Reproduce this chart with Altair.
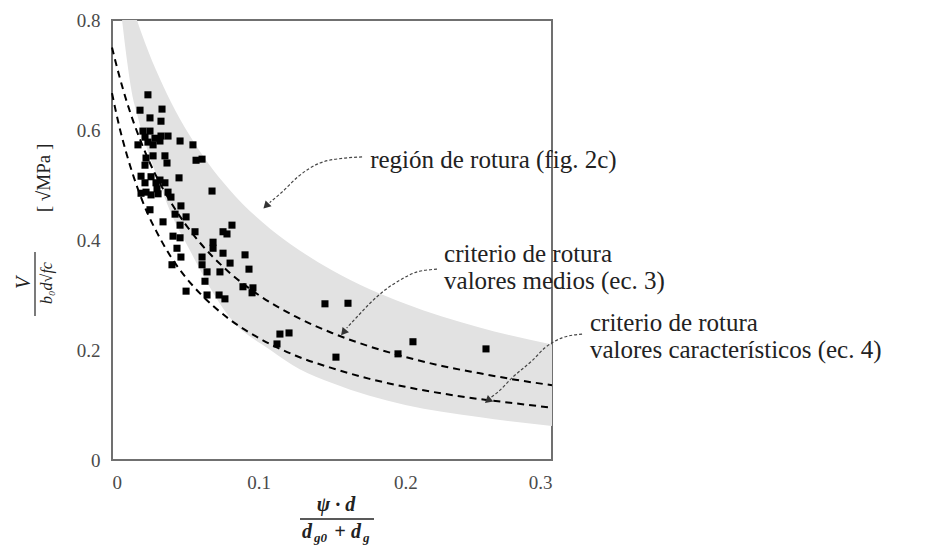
import altair as alt
import pandas as pd

# ---- data ----
pts_x = [0.0245, 0.0191, 0.0341, 0.0259, 0.0334, 0.0211, 0.0259, 0.0225, 0.0293, 0.0334,
         0.0382, 0.0177, 0.0280, 0.0327, 0.0464, 0.0552, 0.0232, 0.0280, 0.0361, 0.0375,
         0.0225, 0.0573, 0.0614, 0.0198, 0.0266, 0.0300, 0.0327, 0.0361, 0.0457, 0.0198,
         0.0232, 0.0266, 0.0314, 0.0382, 0.0402, 0.0682, 0.0259, 0.0470, 0.0430, 0.0505,
         0.0348, 0.0464, 0.0818, 0.0566, 0.0757, 0.0784, 0.0416, 0.0464, 0.0689, 0.0443,
         0.0689, 0.0470, 0.0614, 0.0757, 0.0907, 0.0409, 0.0614, 0.0805, 0.0934, 0.0648,
         0.0736, 0.0634, 0.0893, 0.0961, 0.0955, 0.0505, 0.0648, 0.0730, 0.0770, 0.1452,
         0.1609, 0.1145, 0.1207, 0.1125, 0.1527, 0.1950, 0.2052, 0.2550, 0.0245, 0.0307,
         0.0225]
pts_y = [0.664, 0.636, 0.638, 0.622, 0.616, 0.598, 0.598, 0.587, 0.585, 0.589,
         0.589, 0.573, 0.573, 0.580, 0.580, 0.573, 0.549, 0.553, 0.553, 0.540,
         0.536, 0.545, 0.547, 0.516, 0.515, 0.504, 0.509, 0.504, 0.513, 0.485,
         0.487, 0.482, 0.484, 0.487, 0.478, 0.489, 0.455, 0.462, 0.447, 0.442,
         0.433, 0.427, 0.427, 0.415, 0.415, 0.411, 0.407, 0.404, 0.396, 0.385,
         0.385, 0.369, 0.369, 0.376, 0.373, 0.355, 0.355, 0.358, 0.347, 0.342,
         0.342, 0.325, 0.315, 0.313, 0.304, 0.307, 0.300, 0.300, 0.293, 0.284,
         0.285, 0.229, 0.231, 0.211, 0.187, 0.193, 0.215, 0.202, 0.578, 0.493,
         0.504]

curve_x = [0.0, 0.005, 0.01, 0.015, 0.02, 0.025, 0.03, 0.04, 0.05, 0.06, 0.08, 0.1,
           0.125, 0.15, 0.175, 0.2, 0.225, 0.25, 0.275, 0.3]
medios_y = [0.750, 0.698, 0.652, 0.612, 0.577, 0.545, 0.517, 0.469, 0.429, 0.395, 0.341,
            0.300, 0.261, 0.231, 0.207, 0.1875, 0.171, 0.158, 0.146, 0.136]
caract_y = [0.667, 0.606, 0.556, 0.513, 0.476, 0.444, 0.417, 0.370, 0.333, 0.303, 0.256,
            0.222, 0.190, 0.167, 0.148, 0.133, 0.121, 0.111, 0.103, 0.095]

band_x = [0.006, 0.0102, 0.0136, 0.017, 0.02, 0.03, 0.04, 0.053, 0.065, 0.08, 0.108,
          0.128, 0.15, 0.2, 0.25, 0.3]
band_lo = [0.82, 0.727, 0.667, 0.63, 0.60, 0.52, 0.45, 0.382, 0.322, 0.26, 0.200,
           0.165, 0.14, 0.10, 0.078, 0.062]
band_hi = [0.899, 0.858, 0.828, 0.800, 0.777, 0.709, 0.652, 0.590, 0.542, 0.492, 0.420,
           0.381, 0.345, 0.284, 0.2415, 0.210]

x_ticks = [0, 0.1, 0.2, 0.3]
y_ticks = [0, 0.2, 0.4, 0.6, 0.8]

notes = ["región de rotura (fig. 2c)", "criterio de rotura", "valores medios (ec. 3)",
         "criterio de rotura", "valores característicos (ec. 4)"]
notes_x = [0.176, 0.2264, 0.2264, 0.3259, 0.3259]
notes_y = [0.545, 0.375, 0.3255, 0.2482, 0.2000]

arrow_id = [1] * 6 + [2] * 7 + [3] * 7
arrow_ord = list(range(6)) + list(range(7)) + list(range(7))
arrow_x = [0.1705, 0.1589, 0.1418, 0.1268, 0.1159, 0.1075,
           0.2216, 0.2080, 0.1964, 0.1861, 0.1759, 0.1670, 0.1600,
           0.3205, 0.3068, 0.2952, 0.2870, 0.2734, 0.2625, 0.2580]
arrow_y = [0.551, 0.549, 0.540, 0.515, 0.487, 0.468,
           0.347, 0.342, 0.327, 0.309, 0.285, 0.260, 0.240,
           0.229, 0.222, 0.204, 0.182, 0.151, 0.122, 0.113]
head_x = [0.1050, 0.1578, 0.2562]
head_y = [0.462, 0.232, 0.108]
head_angle = [45, 40, 50]

FONT = "'Liberation Serif', 'Times New Roman', serif"
xs = alt.Scale(domain=[0, 0.3], nice=False, zero=False)
ys = alt.Scale(domain=[0, 0.8], nice=False, zero=False)
lab = "datum.value == 0 ? '0' : format(datum.value, '.1f')"
x_axis = alt.Axis(values=x_ticks, labelExpr=lab, labelFont=FONT, labelFontSize=19,
                  labelColor="#4a4a4a", labelPadding=13, ticks=False, domain=False,
                  grid=False, title=None)
y_axis = alt.Axis(values=y_ticks, labelExpr=lab, labelFont=FONT, labelFontSize=19,
                  labelColor="#4a4a4a", labelPadding=12, ticks=False, domain=False,
                  grid=False, title=None)

band_df = pd.DataFrame({"x": band_x, "lo": band_lo, "hi": band_hi})
pts_df = pd.DataFrame({"x": pts_x, "y": pts_y})
curves_df = pd.DataFrame({"x": curve_x * 2, "y": medios_y + caract_y,
                          "c": ["medios"] * len(curve_x) + ["caract"] * len(curve_x)})
notes_df = pd.DataFrame({"t": notes, "x": notes_x, "y": notes_y})
arrows_df = pd.DataFrame({"id": arrow_id, "o": arrow_ord, "x": arrow_x, "y": arrow_y})
heads_df = pd.DataFrame({"x": head_x, "y": head_y, "a": head_angle})

band = alt.Chart(band_df).mark_area(color="#e2e2e2", clip=True, interpolate="monotone").encode(
    x=alt.X("x:Q", scale=xs, axis=x_axis),
    y=alt.Y("lo:Q", scale=ys, axis=y_axis),
    y2="hi:Q",
)

curves = alt.Chart(curves_df).mark_line(color="black", strokeWidth=2, strokeDash=[7, 5],
                                        interpolate="monotone").encode(
    x=alt.X("x:Q", scale=xs), y=alt.Y("y:Q", scale=ys), detail="c:N")

pts = alt.Chart(pts_df).mark_square(size=50, color="black", opacity=1).encode(
    x=alt.X("x:Q", scale=xs), y=alt.Y("y:Q", scale=ys))

arrows = alt.Chart(arrows_df).mark_line(color="#444444", strokeWidth=1.2, strokeDash=[3, 2],
                                        interpolate="monotone").encode(
    x=alt.X("x:Q", scale=xs), y=alt.Y("y:Q", scale=ys), detail="id:N", order="o:Q")

heads = alt.Chart(heads_df).mark_point(shape="triangle-down", filled=True, size=70,
                                       color="#333333", opacity=1).encode(
    x=alt.X("x:Q", scale=xs), y=alt.Y("y:Q", scale=ys), angle=alt.Angle("a:Q", scale=None))

texts = alt.Chart(notes_df).mark_text(align="left", baseline="middle", font=FONT,
                                      fontSize=25, color="#222222").encode(
    x=alt.X("x:Q", scale=xs), y=alt.Y("y:Q", scale=ys), text="t:N")

# axis titles (fractions) drawn as text pieces
def label(txt, px, py, size=20, angle=0, style="italic", weight="normal", align="center",
          baseline="alphabetic"):
    return alt.Chart(pd.DataFrame({"t": [txt]})).mark_text(
        font=FONT, fontSize=size, fontStyle=style, fontWeight=weight, align=align,
        baseline=baseline, angle=angle, color="#222222").encode(
        x=alt.value(px), y=alt.value(py), text="t:N")

xt = [
    label("ψ · d", 224, 491, weight="bold"),
    label("d", 190, 518, weight="bold", align="left"),
    label("g0", 202, 522, size=13, weight="bold", align="left"),
    label("+", 228, 518, weight="bold"),
    label("d", 239, 518, weight="bold", align="left"),
    label("g", 251, 522, size=13, weight="bold", align="left"),
]
xbar = alt.Chart(pd.DataFrame({"k": [0]})).mark_rule(color="#222222", strokeWidth=1.5).encode(
    x=alt.value(188), x2=alt.value(262), y=alt.value(499))

yt = [
    label("V", -88, 263, size=20, angle=270, baseline="middle"),
    label("b₀d√fc", -65, 263, size=16, angle=270, baseline="middle"),
    label("[ √MPa ]", -68, 158, size=19, angle=270, style="normal", baseline="middle"),
]
ybar = alt.Chart(pd.DataFrame({"k": [0]})).mark_rule(color="#222222", strokeWidth=1.2).encode(
    x=alt.value(-77), y=alt.value(232), y2=alt.value(296))

chart = alt.layer(band, curves, pts, arrows, heads, texts, xbar, ybar, *xt, *yt).properties(
    width=440, height=440,
    autosize=alt.AutoSizeParams(type="none"),
    padding={"left": 104, "top": 12, "right": 380, "bottom": 87},
).configure_view(stroke="#707070", strokeWidth=2)

chart.save("out.html", embed_options={"renderer": "svg", "actions": False})
